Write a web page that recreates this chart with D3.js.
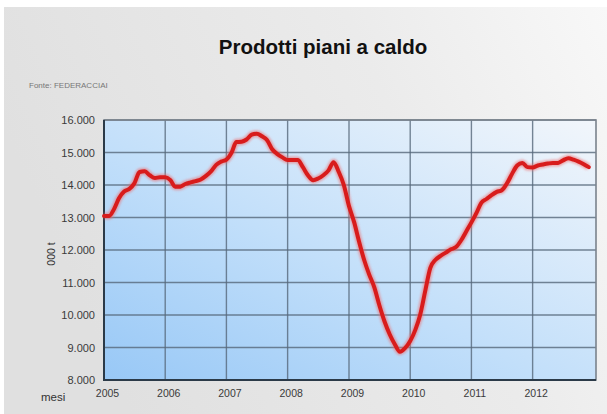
<!DOCTYPE html>
<html>
<head>
<meta charset="utf-8">
<script src="https://cdn.jsdelivr.net/npm/d3@7"></script>
<style>
  html, body { margin: 0; padding: 0; background: #fff; }
  svg { display: block; font-family: "Liberation Sans", Arial, sans-serif; }
</style>
</head>
<body>
<svg id="chart" width="607" height="414"></svg>
<script>
// Monthly production of hot-rolled flat products, thousand tonnes, Jan 2005 – Dec 2012
const startYear = 2005;
const values = [
  13050, 13050, 13250, 13600, 13800, 13880, 14050, 14400, 14420, 14300, 14215, 14240,
  14240, 14150, 13950, 13950, 14030, 14080, 14120, 14170, 14280, 14420, 14620, 14720,
  14780, 15000, 15320, 15330, 15400, 15550, 15580, 15500, 15380, 15100, 14950, 14850,
  14770, 14770, 14770, 14550, 14300, 14150, 14200, 14300, 14450, 14700, 14400, 14000,
  13350, 12850, 12280, 11700, 11250, 10850, 10300, 9800, 9400, 9100, 8870, 8980,
  9200, 9550, 10000, 10750, 11450, 11700, 11820, 11920, 12020, 12090, 12300, 12570,
  12850, 13150, 13450, 13570, 13690, 13790, 13840, 14050, 14350, 14600, 14680, 14550,
  14540, 14600, 14630, 14660, 14680, 14680, 14760, 14820, 14780, 14720, 14640, 14550
];
const yTicks = [8000, 9000, 10000, 11000, 12000, 13000, 14000, 15000, 16000];
const yearLabels = ["2005", "2006", "2007", "2008", "2009", "2010", "2011", "2012"];

const titleText = "Prodotti piani a caldo";
const sourceText = "Fonte: FEDERACCIAI";
const yTitle = "000 t";
const xTitle = "mesi";

const svg = d3.select("#chart");
const W = 607, H = 414;
const plot = { left: 104, right: 596, top: 120, bottom: 380 };

const defs = svg.append("defs");
const bgGrad = defs.append("linearGradient").attr("id", "bgGrad")
  .attr("x1", "0").attr("y1", "0.3").attr("x2", "1").attr("y2", "0");
bgGrad.append("stop").attr("offset", "0").attr("stop-color", "#e0e0e0");
bgGrad.append("stop").attr("offset", "0.6").attr("stop-color", "#ebebeb");
bgGrad.append("stop").attr("offset", "1").attr("stop-color", "#f8f8f8");

const plotGrad = defs.append("linearGradient").attr("id", "plotGrad")
  .attr("x1", "0").attr("y1", "1").attr("x2", "1").attr("y2", "0");
plotGrad.append("stop").attr("offset", "0").attr("stop-color", "#98c8f6");
plotGrad.append("stop").attr("offset", "0.45").attr("stop-color", "#c2dffa");
plotGrad.append("stop").attr("offset", "1").attr("stop-color", "#f2f6fb");

const glow = defs.append("filter").attr("id", "glow")
  .attr("x", "-5%").attr("y", "-5%").attr("width", "110%").attr("height", "110%");
glow.append("feGaussianBlur").attr("stdDeviation", 1.2);

// page background
svg.append("rect").attr("width", W).attr("height", H).attr("fill", "#ffffff");
svg.append("rect").attr("x", 4).attr("y", 7).attr("width", W - 4).attr("height", H - 7)
  .attr("fill", "url(#bgGrad)");

// scales
const x = d3.scaleTime()
  .domain([new Date(startYear, 0, 1), new Date(startYear + yearLabels.length, 0, 1)])
  .range([plot.left, plot.right - 2]);
const y = d3.scaleLinear().domain([8000, 16000]).range([plot.bottom, plot.top]);

const data = values.map((v, i) => ({ date: new Date(startYear, i, 1), value: v }));

// plot area
svg.append("rect")
  .attr("x", plot.left).attr("y", plot.top)
  .attr("width", plot.right - plot.left).attr("height", plot.bottom - plot.top)
  .attr("fill", "url(#plotGrad)");

// grid
const grid = svg.append("g").attr("stroke", "#56687a").attr("stroke-opacity", 0.8).attr("stroke-width", 1.4);
grid.selectAll("line.h").data(yTicks).join("line")
  .attr("x1", plot.left).attr("x2", plot.right)
  .attr("y1", d => y(d)).attr("y2", d => y(d));
grid.selectAll("line.v").data(yearLabels.slice(1)).join("line")
  .attr("y1", plot.top).attr("y2", plot.bottom)
  .attr("x1", d => x(new Date(+d, 0, 1))).attr("x2", d => x(new Date(+d, 0, 1)));

// frame: darker left and bottom edges
svg.append("rect")
  .attr("x", plot.left).attr("y", plot.top)
  .attr("width", plot.right - plot.left).attr("height", plot.bottom - plot.top)
  .attr("fill", "none").attr("stroke", "#7a838c").attr("stroke-width", 1.6);
svg.append("path")
  .attr("d", `M${plot.left},${plot.top}V${plot.bottom}H${plot.right}`)
  .attr("fill", "none").attr("stroke", "#2b3a48").attr("stroke-width", 2);

// y axis labels
const yAxis = d3.axisLeft(y).tickValues(yTicks).tickSize(0).tickPadding(9)
  .tickFormat(d => d3.format(",")(d).replace(/,/g, "."));
const gy = svg.append("g").attr("transform", `translate(${plot.left},0)`).call(yAxis);
gy.select(".domain").remove();
gy.selectAll("text").attr("font-size", 11).attr("fill", "#3a3a3a")
  .attr("font-family", "Liberation Sans, Arial, sans-serif");

// x axis labels
const xAxis = d3.axisBottom(x)
  .tickValues(yearLabels.map(d => new Date(+d, 0, 1)))
  .tickSize(0).tickPadding(10)
  .tickFormat((d, i) => yearLabels[i]);
const gx = svg.append("g").attr("transform", `translate(3,${plot.bottom})`).call(xAxis);
gx.select(".domain").remove();
gx.selectAll("text").attr("font-size", 10.5).attr("fill", "#3a3a3a")
  .attr("font-family", "Liberation Sans, Arial, sans-serif");

// series line
const line = d3.line().x(d => x(d.date)).y(d => y(d.value)).curve(d3.curveMonotoneX);
svg.append("path").datum(data)
  .attr("d", line).attr("fill", "none")
  .attr("stroke", "#ee6a6a").attr("stroke-width", 7).attr("stroke-opacity", 0.55)
  .attr("filter", "url(#glow)");
svg.append("path").datum(data)
  .attr("d", line).attr("fill", "none")
  .attr("stroke", "#d81c1c").attr("stroke-width", 4)
  .attr("stroke-linejoin", "round").attr("stroke-linecap", "round");

// titles
svg.append("text").attr("x", 323).attr("y", 54).attr("text-anchor", "middle")
  .attr("font-size", 20.5).attr("font-weight", "bold").attr("fill", "#111")
  .text(titleText);
svg.append("text").attr("x", 29).attr("y", 88)
  .attr("font-size", 8).attr("fill", "#777").text(sourceText);
svg.append("text")
  .attr("transform", `translate(55,${(plot.top + plot.bottom) / 2 + 4}) rotate(-90)`)
  .attr("text-anchor", "middle").attr("font-size", 10.5).attr("fill", "#333")
  .text(yTitle);
svg.append("text").attr("x", 41).attr("y", 401)
  .attr("font-size", 11.5).attr("fill", "#333").text(xTitle);
</script>
</body>
</html>
